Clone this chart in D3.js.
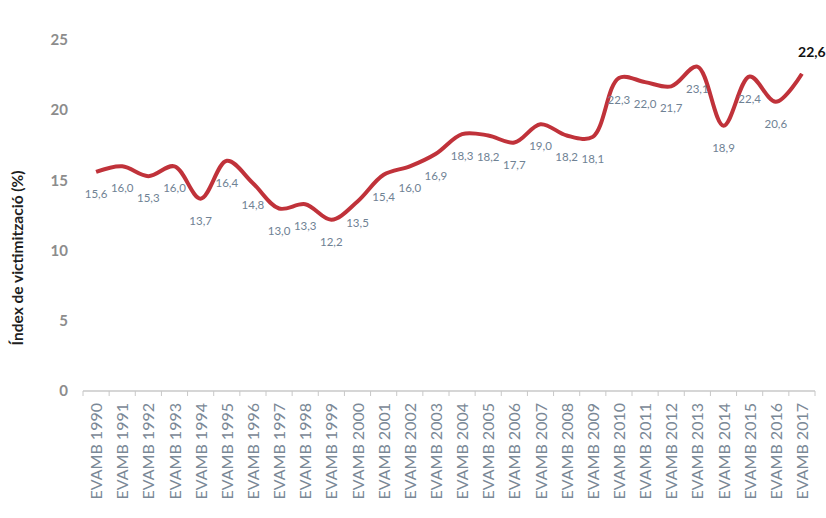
<!DOCTYPE html>
<html><head><meta charset="utf-8">
<script src="https://cdn.jsdelivr.net/npm/d3@7"></script>
<style>body{margin:0;background:#fff}svg{display:block}</style>
</head><body><svg id="c" width="826" height="518"></svg>
<script>
const years = ["1990","1991","1992","1993","1994","1995","1996","1997","1998","1999","2000","2001","2002","2003","2004","2005","2006","2007","2008","2009","2010","2011","2012","2013","2014","2015","2016","2017"];
const categories = years.map(y => "EVAMB " + y);
const values = [15.6,16.0,15.3,16.0,13.7,16.4,14.8,13.0,13.3,12.2,13.5,15.4,16.0,16.9,18.3,18.2,17.7,19.0,18.2,18.1,22.3,22.0,21.7,23.1,18.9,22.4,20.6,22.6];
const yTicks = [0,5,10,15,20,25];
const yTitle = "Índex de victimització (%)";

const svg = d3.select("#c");
const x = d3.scaleBand().domain(categories).range([83, 815]);
const y = d3.scaleLinear().domain([0, 25]).range([391, 40]);
const font = "Lato, 'Open Sans', sans-serif";

// y tick labels
svg.append("g").selectAll("text").data(yTicks).join("text")
  .attr("x", 68).attr("y", d => y(d)).attr("dy", "0.35em")
  .attr("text-anchor", "end").attr("font-family", font).attr("font-weight", "bold")
  .attr("font-size", 15).attr("fill", "#8c8c8c").text(d => d);

// y title
svg.append("text").attr("transform", "translate(23,258) rotate(-90)")
  .attr("text-anchor", "middle").attr("font-family", font).attr("font-weight", "bold")
  .attr("font-size", 15.5).attr("fill", "#1e1e1e").text(yTitle);

// x axis
const xa = svg.append("g").attr("transform", "translate(0,391)");
xa.append("line").attr("x1", 83).attr("x2", 815).attr("stroke", "#c8c8c8").attr("stroke-width", 1.5);
const bounds = categories.map(c => x(c)).concat([x.range()[1]]);
xa.selectAll("line.t").data(bounds).join("line").attr("class", "t")
  .attr("x1", d => d).attr("x2", d => d).attr("y1", 0).attr("y2", 5)
  .attr("stroke", "#c8c8c8").attr("stroke-width", 1);
xa.selectAll("text").data(categories).join("text")
  .attr("transform", d => `translate(${x(d) + x.bandwidth()/2 + 6},12) rotate(-90)`)
  .attr("text-anchor", "end").attr("font-family", font)
  .attr("font-size", 16).attr("fill", "#7a8896").text(d => d);

// line
const cx = d => x(d) + x.bandwidth()/2;
const line = d3.line().x((d, i) => cx(categories[i])).y(d => y(d)).curve(d3.curveCatmullRom.alpha(0.5));
svg.append("path").datum(values).attr("d", line).attr("fill", "none")
  .attr("stroke", "#c0323a").attr("stroke-width", 4).attr("stroke-linejoin", "round");

// data labels
const fmt = v => v.toFixed(1).replace(".", ",");
const last = values.length - 1;
svg.append("g").selectAll("text").data(values).join("text")
  .attr("x", (d, i) => i === last ? cx(categories[i]) + 10 : cx(categories[i]))
  .attr("y", (d, i) => i === last ? y(d) - 22 : y(d) + 22)
  .attr("dy", "0.35em").attr("text-anchor", "middle").attr("font-family", font)
  .attr("font-size", (d, i) => i === last ? 14 : 11.5)
  .attr("font-weight", (d, i) => i === last ? "bold" : "normal")
  .attr("fill", (d, i) => i === last ? "#111" : "#6f8294").text(fmt);
</script></body></html>
